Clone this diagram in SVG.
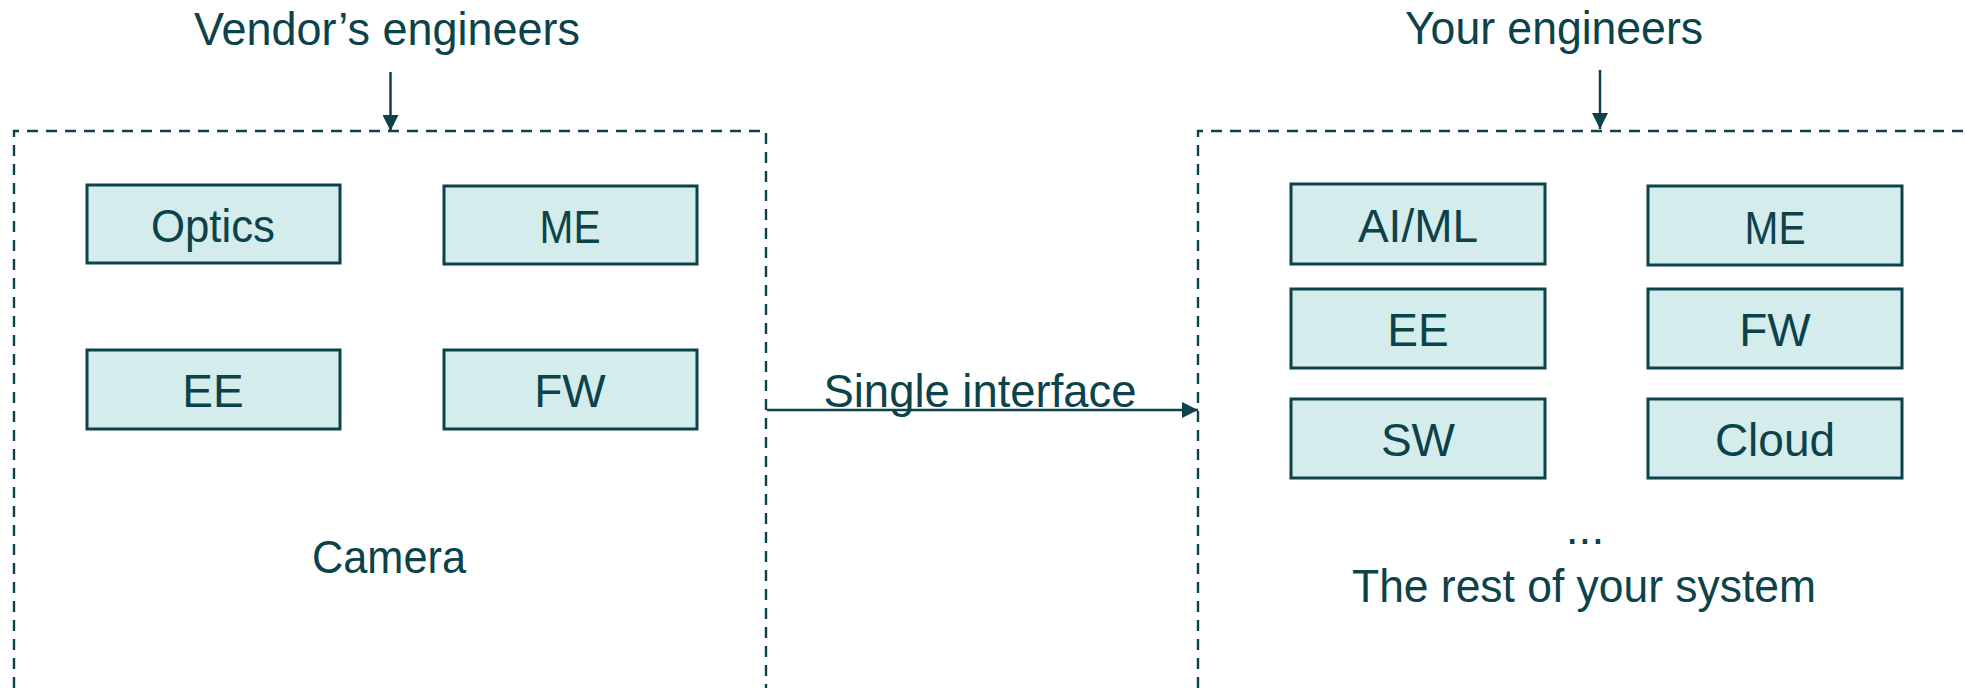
<svg xmlns="http://www.w3.org/2000/svg" width="1965" height="688" viewBox="0 0 1965 688">
  <defs>
    <style>
      .lbl { font-family: "Liberation Sans", Arial, sans-serif; font-size: 46px; fill: #0c424a; text-anchor: middle; }
      .box { fill: #d5ecec; stroke: #0c424a; stroke-width: 3; }
      .frame { fill: none; stroke: #0c424a; stroke-width: 2.4; stroke-dasharray: 11 8; }
      .conn { fill: none; stroke: #0c424a; stroke-width: 2.5; }
    </style>
    <marker id="arrow" viewBox="0 0 16 16" refX="16" refY="8" markerWidth="16" markerHeight="16" markerUnits="userSpaceOnUse" orient="auto">
      <path d="M0,0 L16,8 L0,16 Z" fill="#0c424a"/>
    </marker>
  </defs>
  <rect width="1965" height="688" fill="#ffffff"/>

  <!-- Camera (vendor side) -->
  <g id="camera">
    <path class="frame" d="M14,688 V131 H766 V688"/>
    <text class="lbl" x="389" y="573" textLength="154" lengthAdjust="spacingAndGlyphs">Camera</text>
  </g>
  <g id="vendor-engineers"><text class="lbl" x="387" y="45" textLength="386" lengthAdjust="spacingAndGlyphs">Vendor’s engineers</text></g>
  <g id="cam-optics"><rect class="box" x="87" y="185" width="253" height="78"/><text class="lbl" x="213" y="242" textLength="124" lengthAdjust="spacingAndGlyphs">Optics</text></g>
  <g id="cam-me"><rect class="box" x="444" y="186" width="253" height="78"/><text class="lbl" x="570" y="243" textLength="61" lengthAdjust="spacingAndGlyphs">ME</text></g>
  <g id="cam-ee"><rect class="box" x="87" y="350" width="253" height="79"/><text class="lbl" x="213" y="407">EE</text></g>
  <g id="cam-fw"><rect class="box" x="444" y="350" width="253" height="79"/><text class="lbl" x="570" y="407">FW</text></g>

  <!-- Rest of the system -->
  <g id="system">
    <path class="frame" d="M1198,688 V131 H1970"/>
    <text class="lbl" x="1585" y="544">...</text>
    <text class="lbl" x="1584" y="602" textLength="464" lengthAdjust="spacingAndGlyphs">The rest of your system</text>
  </g>
  <g id="your-engineers"><text class="lbl" x="1554" y="44" textLength="298" lengthAdjust="spacingAndGlyphs">Your engineers</text></g>
  <g id="sys-aiml"><rect class="box" x="1291" y="184" width="254" height="80"/><text class="lbl" x="1418" y="242">AI/ML</text></g>
  <g id="sys-me"><rect class="box" x="1648" y="186" width="254" height="79"/><text class="lbl" x="1775" y="244" textLength="61" lengthAdjust="spacingAndGlyphs">ME</text></g>
  <g id="sys-ee"><rect class="box" x="1291" y="289" width="254" height="79"/><text class="lbl" x="1418" y="346">EE</text></g>
  <g id="sys-fw"><rect class="box" x="1648" y="289" width="254" height="79"/><text class="lbl" x="1775" y="346">FW</text></g>
  <g id="sys-sw"><rect class="box" x="1291" y="399" width="254" height="79"/><text class="lbl" x="1418" y="456">SW</text></g>
  <g id="sys-cloud"><rect class="box" x="1648" y="399" width="254" height="79"/><text class="lbl" x="1775" y="456">Cloud</text></g>

  <!-- Connectors -->
  <g id="connectors">
    <line class="conn" x1="390.5" y1="72" x2="390.5" y2="131" marker-end="url(#arrow)"/>
    <line class="conn" x1="1600" y1="70" x2="1600" y2="129" marker-end="url(#arrow)"/>
    <line class="conn" x1="767" y1="410" x2="1198" y2="410" marker-end="url(#arrow)"/>
    <text class="lbl" x="980" y="407" textLength="313" lengthAdjust="spacingAndGlyphs">Single interface</text>
  </g>
</svg>
